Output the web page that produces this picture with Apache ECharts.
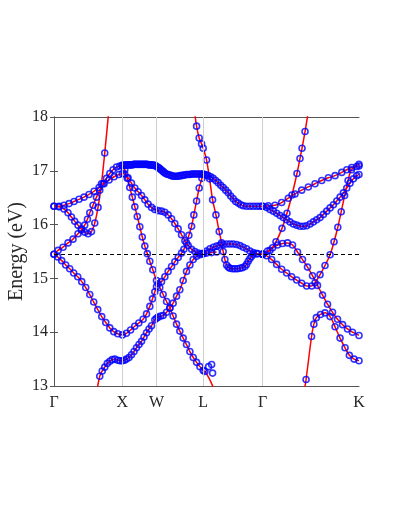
<!DOCTYPE html>
<html>
<head>
<meta charset="utf-8">
<script src="https://cdn.jsdelivr.net/npm/echarts@6/dist/echarts.min.js"></script>
<style>
html, body { margin: 0; padding: 0; background: #fff; }
#chart { width: 399px; height: 516px; }
</style>
</head>
<body>
<div id="chart"></div>
<script>
// high-symmetry points along the path (k in units of Γ-X)
const symNames = ['Γ', 'X', 'W', 'L', 'Γ', 'K'];
const symK = [0, 1, 1.5, 2.18, 3.05, 4.46];
const yTicks = [13, 14, 15, 16, 17, 18];
const fermi = 15.45;

// bands, [k, E(eV)] sampled where circles sit
const bandA = [[0,16.34],[0.073,16.34],[0.146,16.36],[0.220,16.39],[0.293,16.43],[0.366,16.47],[0.439,16.51],[0.512,16.56],[0.586,16.62],[0.659,16.69],[0.732,16.76],[0.805,16.83],[0.878,16.89],[0.951,16.93],[1.0,16.95],
  [1.035,16.94],[1.083,16.87],[1.133,16.77],[1.182,16.68],[1.230,16.61],[1.280,16.54],[1.328,16.46],[1.376,16.38],[1.426,16.32],[1.474,16.28],[1.523,16.26],[1.572,16.25],[1.621,16.23],[1.669,16.18],[1.719,16.11],[1.767,16.02],[1.816,15.92],[1.865,15.81],[1.914,15.70],[1.962,15.61],[2.012,15.54],[2.060,15.50],[2.108,15.47],[2.158,15.46],[2.182,15.46],
  [2.231,15.51],[2.280,15.55],[2.329,15.58],[2.378,15.60],[2.426,15.62],[2.474,15.63],[2.523,15.64],[2.572,15.64],[2.621,15.64],[2.670,15.63],[2.719,15.61],[2.767,15.58],[2.816,15.55],[2.865,15.51],[2.914,15.48],[2.963,15.46],[3.05,15.45]];

const bandB = [[0,16.34],[0.073,16.33],[0.146,16.29],[0.205,16.22],[0.255,16.14],[0.303,16.06],[0.351,15.99],[0.401,15.92],[0.449,15.86],[0.498,15.83],[0.548,15.87],[0.596,16.03],[0.644,16.32],[0.694,16.76],[0.742,17.33]];
const bandBTail = [[0.791,17.98],[0.816,18.3]];

const bandC = [[0,15.45],[0.059,15.52],[0.132,15.58],[0.205,15.66],[0.278,15.73],[0.351,15.83],[0.401,15.90],[0.449,15.99],[0.489,16.10],[0.523,16.22],[0.571,16.36],[0.621,16.51],[0.669,16.64],[0.717,16.76],[0.767,16.86],[0.816,16.95],[0.864,17.02],[0.914,17.07],[0.962,17.09],[1.0,17.10],
  [1.035,17.02],[1.072,16.86],[1.108,16.69],[1.145,16.51],[1.182,16.33],[1.218,16.15],[1.255,15.96],[1.291,15.77],[1.328,15.60],[1.365,15.46],[1.401,15.32],[1.445,15.16],[1.499,14.96],[1.547,14.83],[1.596,14.70],[1.646,14.57],[1.694,14.45],[1.742,14.30],[1.792,14.15],[1.840,14.02],[1.889,13.89],[1.938,13.77],[1.987,13.64],[2.036,13.53],[2.085,13.44],[2.134,13.36],[2.182,13.29],[2.206,13.27]];
const bandCTail = [[2.265,13.15],[2.330,12.97]];

const bandD = [[0,15.45],[0.054,15.40],[0.113,15.33],[0.171,15.25],[0.230,15.18],[0.288,15.10],[0.347,15.03],[0.406,14.94],[0.464,14.83],[0.523,14.70],[0.581,14.56],[0.640,14.42],[0.698,14.29],[0.757,14.18],[0.816,14.08],[0.874,14.01],[0.933,13.97],[1.0,13.95],
  [1.060,13.98],[1.120,14.04],[1.180,14.11],[1.240,14.17],[1.303,14.24],[1.353,14.34],[1.401,14.48],[1.440,14.62],[1.474,14.75],[1.499,14.85],[1.523,14.90],[1.572,14.94],[1.621,15.03],[1.669,15.13],[1.719,15.22],[1.767,15.31],[1.816,15.39],[1.865,15.47],[1.899,15.54],[1.938,15.66],[1.972,15.80],[2.012,15.97],[2.045,16.18],[2.085,16.44],[2.123,16.68],[2.163,16.86],[2.182,16.93]];

const bandEHead = [[0.633,12.95]];
const bandE = [[0.669,13.18],[0.705,13.28],[0.742,13.35],[0.779,13.42],[0.816,13.46],[0.852,13.49],[0.889,13.50],[0.933,13.48],[0.967,13.47],[1.0,13.47],[1.030,13.48],[1.060,13.50],[1.097,13.53],[1.133,13.58],[1.170,13.64],[1.206,13.71],[1.243,13.77],[1.280,13.83],[1.316,13.91],[1.353,13.99],[1.390,14.06],[1.426,14.12],[1.474,14.23],[1.499,14.26],[1.523,14.28],[1.560,14.30],[1.596,14.31],[1.646,14.37],[1.694,14.45],[1.742,14.54],[1.792,14.67],[1.840,14.79],[1.889,14.96],[1.938,15.13],[1.987,15.25],[2.035,15.35],[2.085,15.41],[2.133,15.44],[2.182,15.46],[2.231,15.47],[2.305,15.48],[2.378,15.49]];

// flat band X-W-L-Γ, then down and up again towards K
const bandF = [[1.0,17.10],[1.018,17.10],[1.035,17.10],[1.054,17.11],[1.072,17.11],[1.090,17.11],[1.108,17.11],[1.127,17.11],[1.145,17.11],[1.164,17.12],[1.182,17.12],[1.200,17.12],[1.218,17.12],[1.237,17.12],[1.255,17.12],[1.273,17.12],[1.291,17.12],[1.310,17.12],[1.328,17.12],[1.346,17.12],[1.365,17.12],[1.383,17.11],[1.401,17.11],[1.420,17.11],[1.438,17.11],[1.456,17.10],[1.474,17.10],[1.492,17.09],[1.511,17.07],[1.529,17.06],[1.547,17.04],[1.566,17.02],[1.584,17.00],[1.603,16.98],[1.621,16.96],[1.645,16.94],[1.669,16.93],[1.694,16.92],[1.719,16.91],[1.743,16.90],[1.767,16.90],[1.792,16.90],[1.816,16.90],[1.840,16.91],[1.865,16.91],[1.889,16.92],[1.914,16.92],[1.938,16.93],[1.962,16.93],[1.987,16.93],[2.012,16.94],[2.036,16.94],[2.060,16.94],[2.085,16.94],[2.108,16.94],[2.133,16.94],[2.158,16.94],[2.182,16.94],
  [2.206,16.93],[2.231,16.92],[2.255,16.91],[2.292,16.89],[2.328,16.86],[2.365,16.82],[2.401,16.78],[2.438,16.73],[2.474,16.69],[2.511,16.64],[2.548,16.59],[2.584,16.53],[2.621,16.48],[2.657,16.43],[2.694,16.40],[2.731,16.37],[2.767,16.35],[2.816,16.34],[2.865,16.34],[2.914,16.34],[2.963,16.34],[3.008,16.34],[3.05,16.34],
  [3.110,16.32],[3.158,16.28],[3.207,16.25],[3.256,16.21],[3.305,16.17],[3.353,16.13],[3.402,16.09],[3.451,16.05],[3.500,16.01],[3.549,15.99],[3.597,15.97],[3.646,15.97],[3.695,15.98],[3.744,16.01],[3.792,16.05],[3.841,16.09],[3.890,16.13],[3.939,16.19],[3.988,16.25],[4.037,16.31],[4.086,16.37],[4.135,16.44],[4.183,16.51],[4.232,16.59],[4.281,16.68],[4.329,16.77],[4.378,16.85],[4.427,16.91],[4.46,16.93]];

const bandLHead = [[2.050,18.15]];
const bandL = [[2.085,17.83],[2.123,17.61],[2.158,17.50],[2.182,17.42],[2.231,17.20],[2.275,16.85],[2.319,16.46],[2.368,16.18],[2.416,15.87],[2.451,15.66],[2.474,15.50],[2.499,15.35],[2.524,15.25],[2.548,15.21],[2.572,15.19],[2.609,15.18],[2.645,15.18],[2.682,15.18],[2.719,15.19],[2.755,15.20],[2.792,15.22],[2.816,15.26],[2.840,15.32],[2.865,15.37],[2.890,15.41],[2.914,15.45],[2.975,15.46],[3.05,15.45]];

const bandK1 = [[3.05,16.34],[3.133,16.35],[3.231,16.36],[3.329,16.41],[3.426,16.49],[3.524,16.57],[3.622,16.64],[3.719,16.70],[3.817,16.76],[3.915,16.82],[4.012,16.87],[4.110,16.91],[4.208,16.97],[4.281,17.02],[4.354,17.06],[4.427,17.08],[4.46,17.09]];
const bandK2 = [[3.05,15.45],[3.123,15.51],[3.196,15.57],[3.269,15.62],[3.342,15.65],[3.415,15.66],[3.488,15.62],[3.561,15.49],[3.634,15.35],[3.707,15.21],[3.780,15.05],[3.853,14.87],[3.927,14.69],[4.000,14.52],[4.073,14.37],[4.146,14.24],[4.220,14.14],[4.292,14.06],[4.365,14.00],[4.46,13.94]];
const bandK3 = [[3.05,15.45],[3.110,15.42],[3.183,15.35],[3.256,15.26],[3.329,15.17],[3.402,15.10],[3.475,15.03],[3.549,14.97],[3.622,14.91],[3.695,14.86],[3.769,14.86],[3.817,14.92],[3.890,15.07],[3.963,15.24],[4.037,15.44],[4.095,15.68],[4.150,15.95],[4.200,16.24],[4.250,16.54],[4.300,16.82],[4.350,17.02],[4.46,17.12]];
const bandK4 = [[3.05,15.45],[3.158,15.52],[3.246,15.68],[3.334,15.93],[3.407,16.21],[3.480,16.55],[3.553,16.95],[3.597,17.23],[3.627,17.42],[3.671,17.73]];
const bandK4Tail = [[3.719,18.10]];
const bandK5Head = [[3.664,12.95]];
const bandK5 = [[3.686,13.12],[3.766,13.92],[3.800,14.15],[3.836,14.27],[3.897,14.33],[3.963,14.36],[4.037,14.29],[4.110,14.10],[4.183,13.89],[4.256,13.71],[4.319,13.57],[4.388,13.50],[4.46,13.47]];

// circles that sit off the red lines near L
const strayDots = [[2.261,13.36],[2.305,13.40],[2.319,13.24]];

const curves = [
  { dots: bandA },
  { dots: bandB, tail: bandBTail },
  { dots: bandC, tail: bandCTail },
  { dots: bandD },
  { dots: bandE, head: bandEHead },
  { dots: bandF },
  { dots: bandL, head: bandLHead },
  { dots: bandK1 },
  { dots: bandK2 },
  { dots: bandK3 },
  { dots: bandK4, tail: bandK4Tail },
  { dots: bandK5, head: bandK5Head }
];

const serif = '"Liberation Serif", "DejaVu Serif", serif';
const chart = echarts.init(document.getElementById('chart'));

const series = [];
curves.forEach(c => {
  series.push({
    type: 'line',
    data: (c.head || []).concat(c.dots, c.tail || []),
    smooth: 0.3,
    showSymbol: false,
    lineStyle: { color: '#ff0000', width: 1.5 },
    z: 3,
    silent: true
  });
});
curves.map(c => c.dots).concat([strayDots]).forEach(d => {
  series.push({
    type: 'scatter',
    data: d,
    symbol: 'circle',
    symbolSize: 6,
    itemStyle: { color: 'rgba(0,0,0,0)', borderColor: '#0000ff', borderWidth: 1.6 },
    z: 4,
    silent: true
  });
});
// vertical lines at the inner symmetry points and the dashed Fermi level
series.push({
  type: 'line',
  data: [],
  z: 1,
  markLine: {
    silent: true,
    symbol: 'none',
    label: { show: false },
    lineStyle: { color: '#cfcfcf', width: 1, type: 'solid' },
    data: symK.slice(1, -1).map(k => ({ xAxis: k }))
  }
});
series.push({
  type: 'line',
  data: [],
  z: 5,
  markLine: {
    silent: true,
    symbol: 'none',
    label: { show: false },
    lineStyle: { color: '#000', width: 1.2, type: [4, 3] },
    data: [{ yAxis: fermi }]
  }
});

chart.setOption({
  animation: false,
  grid: { left: 54, right: 40, top: 117, bottom: 130, outerBoundsMode: 'none' },
  xAxis: [{
    type: 'value',
    min: symK[0],
    max: symK[symK.length - 1],
    axisLine: { lineStyle: { color: '#555', width: 1 } },
    axisTick: { show: false },
    splitLine: { show: false },
    axisLabel: {
      customValues: symK,
      formatter: v => symNames[symK.indexOf(v)],
      color: '#262626',
      fontFamily: serif,
      fontSize: 16,
      margin: 9
    }
  }, {
    type: 'value',
    position: 'top',
    min: symK[0],
    max: symK[symK.length - 1],
    axisLine: { show: true, lineStyle: { color: '#555', width: 1 } },
    axisTick: { show: false },
    axisLabel: { show: false },
    splitLine: { show: false }
  }],
  yAxis: [{
    type: 'value',
    min: yTicks[0],
    max: yTicks[yTicks.length - 1],
    interval: 1,
    name: 'Energy (eV)',
    nameLocation: 'middle',
    nameGap: 27,
    nameMoveOverlap: false,
    nameTextStyle: { fontFamily: serif, fontSize: 20, color: '#262626' },
    axisLine: { show: true, lineStyle: { color: '#555', width: 1 } },
    axisTick: { show: true, inside: true, length: 4, lineStyle: { color: '#555' } },
    splitLine: { show: false },
    axisLabel: { color: '#262626', fontFamily: serif, fontSize: 16, margin: 6 }
  }, {
    type: 'value',
    position: 'right',
    min: yTicks[0],
    max: yTicks[yTicks.length - 1],
    interval: 1,
    axisLine: { show: true, lineStyle: { color: '#555', width: 1 } },
    axisTick: { show: true, inside: true, length: 4, lineStyle: { color: '#555' } },
    axisLabel: { show: false },
    splitLine: { show: false }
  }],
  series: series
});
</script>
</body>
</html>
